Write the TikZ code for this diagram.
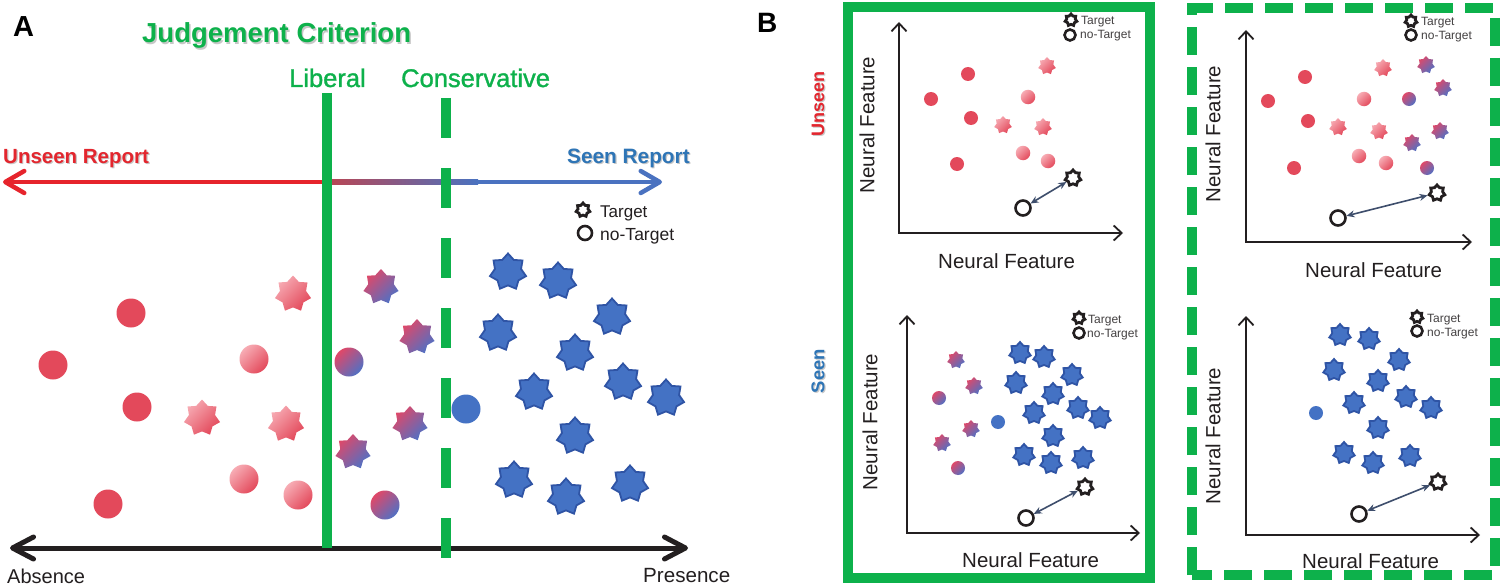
\documentclass[tikz,border=0pt]{standalone}
\usepackage{fontspec}
\setmainfont{Liberation Sans}
\newfontfamily\medfont{Liberation Sans}[FakeBold=1.3]
\usetikzlibrary{shapes.geometric,arrows.meta}
\definecolor{grn}{RGB}{13,177,75}
\definecolor{dotred}{RGB}{227,73,91}
\definecolor{lightpk}{RGB}{247,172,180}
\definecolor{purtop}{RGB}{224,72,104}
\definecolor{purbot}{RGB}{80,112,196}
\definecolor{sblue}{RGB}{68,114,196}
\definecolor{sborder}{RGB}{47,84,165}
\definecolor{arrred}{RGB}{230,36,44}
\definecolor{arrmid}{RGB}{185,70,84}
\definecolor{arrblue}{RGB}{74,114,192}
\definecolor{txtred}{RGB}{227,38,46}
\definecolor{txtblue}{RGB}{46,117,182}
\definecolor{ink}{RGB}{35,31,32}
\definecolor{dblc}{RGB}{62,78,108}
\newcommand{\fsz}[1]{\fontsize{#1}{#1}\selectfont}
\tikzset{
  myblob/.style={circle,inner sep=0pt,minimum size=#1},
  myrc/.style={myblob=#1,fill=dotred},
  mylc/.style={myblob=#1,top color=lightpk,bottom color=dotred,shading angle=45},
  mypc/.style={myblob=#1,top color=purtop,bottom color=purbot,shading angle=45},
  mybc/.style={myblob=#1,fill=sblue},
  mystar/.style={star,star points=7,star point ratio=1.38,inner sep=0pt,minimum size=#1},
  myls/.style={mystar=#1,top color=lightpk,bottom color=dotred,shading angle=45},
  myps/.style={mystar=#1,top color=purtop,bottom color=purbot,shading angle=45},
  mybs/.style={mystar=#1,fill=sblue,draw=sborder,line width=1.8pt},
  myts/.style={mystar=#1,fill=white,draw=ink,line width=2.8pt},
  mync/.style={myblob=#1,fill=white,draw=ink,line width=2.6pt},
  mytxt/.style={anchor=base west,inner sep=0pt},
  myaxis/.style={ink,line width=1.8pt,arrows={Straight Barb[length=8pt,width=15pt]-Straight Barb[length=8pt,width=15pt]}},
  mydbl/.style={dblc,line width=1.6pt,arrows={Stealth[length=8pt,width=7pt]-Stealth[length=8pt,width=7pt]}},
  myshadow/.style={text=black,opacity=0.22},
}
\begin{document}
\begin{tikzpicture}[x=1pt,y=-1pt]
\useasboundingbox (0,0) rectangle (1500,586);
\fill[white] (0,0) rectangle (1500,586);

% ---------------- Panel A ----------------
\node[mytxt] (labA) at (13,37) {\fsz{29}\bfseries A};
\node[mytxt,myshadow] (ttlsh) at (143.5,44.5) {\fsz{27.5}\bfseries Judgement Criterion};
\node[mytxt,text=grn] (ttl) at (142,43) {\fsz{27.5}\bfseries Judgement Criterion};
\node[mytxt,text=grn] (lib) at (289,87) {\fsz{25.5}\medfont Liberal};
\node[mytxt,text=grn] (cons) at (401,87) {\fsz{25.5}\medfont Conservative};
\node[mytxt,myshadow] (unrepsh) at (4.2,164.2) {\fsz{20.5}\bfseries Unseen Report};
\node[mytxt,text=txtred] (unrep) at (3,163) {\fsz{20.5}\bfseries Unseen Report};
\node[mytxt,myshadow] (serepsh) at (568.2,164.2) {\fsz{20.8}\bfseries Seen Report};
\node[mytxt,text=txtblue] (serep) at (567,163) {\fsz{20.8}\bfseries Seen Report};

% report arrow
\coordinate (rl) at (3,182);
\coordinate (rm) at (331,182);
\coordinate (bm) at (477,182);
\coordinate (br) at (662,182);
\draw[arrred,line width=4.5pt,arrows={Straight Barb[length=19pt,width=22pt,round]-}] (rl) -- (rm);
\draw[arrblue,line width=4.5pt,arrows={-Straight Barb[length=19pt,width=22pt,round]}] (bm) -- (br);
\shade[left color=arrmid,right color=arrblue] (329,179.75) rectangle (478,184.25);

% absence / presence axis
\coordinate (al) at (10,548);
\coordinate (ar) at (688,548);
\draw[ink,line width=5pt,arrows={Straight Barb[length=21pt,width=22pt,round]-Straight Barb[length=21pt,width=22pt,round]}] (al) -- (ar);
\node[mytxt,text=ink] (abs) at (7,583) {\fsz{20}Absence};
\node[mytxt,text=ink] (pres) at (643,582) {\fsz{20.6}Presence};

% criterion lines
\coordinate (libt) at (327,93);
\coordinate (libb) at (327,548);
\coordinate (cont) at (446,98);
\coordinate (conb) at (446,558);
\draw[grn,line width=10pt] (libt) -- (libb);
\draw[grn,line width=10pt,dash pattern=on 40pt off 30pt] (cont) -- (conb);

% legend A
\node[myts=14] (aleg1) at (583,210) {};
\node[mync=14] (aleg2) at (585,233) {};
\node[mytxt,text=ink] (alegt1) at (600,217) {\fsz{17}Target};
\node[mytxt,text=ink] (alegt2) at (600,240) {\fsz{17.5}no-Target};

% points A
\foreach \p [count=\i] in {(131,313),(53,365),(137,407),(108,504)} \node[myrc=29] (arc\i) at \p {};
\foreach \p [count=\i] in {(254,359),(244,479),(298,495)} \node[mylc=29] (alc\i) at \p {};
\foreach \p [count=\i] in {(293,294),(202,418),(286,424)} \node[myls=37] (als\i) at \p {};
\foreach \p [count=\i] in {(381,287),(417,337),(410,424),(353,452)} \node[myps=36] (aps\i) at \p {};
\foreach \p [count=\i] in {(349,362),(385,505)} \node[mypc=29] (apc\i) at \p {};
\node[mybc=29] (abc1) at (466,409) {};
\foreach \p [count=\i] in {(508,272),(558,281),(612,317),(498,333),(575,353),(534,392),(623,382),(666,398),(575,436),(514,480),(566,497),(630,484)} \node[mybs=37] (abs\i) at \p {};

% ---------------- Panel B ----------------
\node[mytxt] (labB) at (757,33) {\fsz{28}\bfseries B};
\node[rotate=90,myshadow] (unsh) at (819.2,105.2) {\fsz{18}\bfseries Unseen};
\node[rotate=90,text=txtred] (unl) at (818,104) {\fsz{18}\bfseries Unseen};
\node[rotate=90,myshadow] (sesh) at (819.2,372.2) {\fsz{18.5}\bfseries Seen};
\node[rotate=90,text=txtblue] (sel) at (818,371) {\fsz{18.5}\bfseries Seen};

\draw[grn,line width=10pt] (847.5,7) rectangle (1150,578);
\draw[grn,line width=10pt,dash pattern=on 28pt off 12pt] (1192,575) -- (1192,8) -- (1495,8) -- (1495,575) -- cycle;

% axes
\coordinate (o1) at (899,233); \coordinate (y1) at (899,22); \coordinate (x1) at (1123,233);
\coordinate (o2) at (1246,242); \coordinate (y2) at (1246,30); \coordinate (x2) at (1472,242);
\coordinate (o3) at (907,533); \coordinate (y3) at (907,315); \coordinate (x3) at (1140,533);
\coordinate (o4) at (1246,535); \coordinate (y4) at (1246,316); \coordinate (x4) at (1480,535);
\draw[myaxis] (y1) -- (o1) -- (x1);
\draw[myaxis] (y2) -- (o2) -- (x2);
\draw[myaxis] (y3) -- (o3) -- (x3);
\draw[myaxis] (y4) -- (o4) -- (x4);

\node[rotate=90,text=ink] (yl1) at (867,125) {\fsz{20.5}Neural Feature};
\node[rotate=90,text=ink] (yl2) at (1213,134) {\fsz{20.5}Neural Feature};
\node[rotate=90,text=ink] (yl3) at (870,422) {\fsz{20.5}Neural Feature};
\node[rotate=90,text=ink] (yl4) at (1213,436) {\fsz{20.5}Neural Feature};
\node[mytxt,text=ink] (xl1) at (938,268) {\fsz{20.5}Neural Feature};
\node[mytxt,text=ink] (xl2) at (1305,277) {\fsz{20.5}Neural Feature};
\node[mytxt,text=ink] (xl3) at (962,567) {\fsz{20.5}Neural Feature};
\node[mytxt,text=ink] (xl4) at (1302,568) {\fsz{20.5}Neural Feature};

% legends B
\node[myts=12] (l1s) at (1071,20) {};
\node[mync=11] (l1c) at (1070,35) {};
\node[mytxt,text=ink!85] (l1t) at (1081,25) {\fsz{12}Target};
\node[mytxt,text=ink!85] (l1n) at (1080,39) {\fsz{12}no-Target};
\node[myts=12] (l2s) at (1411,21) {};
\node[mync=11] (l2c) at (1411,35) {};
\node[mytxt,text=ink!85] (l2t) at (1421,26) {\fsz{12}Target};
\node[mytxt,text=ink!85] (l2n) at (1421,40) {\fsz{12}no-Target};
\node[myts=12] (l3s) at (1079,318) {};
\node[mync=11] (l3c) at (1079,333) {};
\node[mytxt,text=ink!85] (l3t) at (1088,323) {\fsz{12}Target};
\node[mytxt,text=ink!85] (l3n) at (1087,337) {\fsz{12}no-Target};
\node[myts=12] (l4s) at (1417,317) {};
\node[mync=11] (l4c) at (1417,331) {};
\node[mytxt,text=ink!85] (l4t) at (1427,322) {\fsz{12}Target};
\node[mytxt,text=ink!85] (l4n) at (1427,336) {\fsz{12}no-Target};

% TL points
\foreach \p [count=\i] in {(968,74),(931,99),(971,118),(957,164)} \node[myrc=14] (tlrc\i) at \p {};
\foreach \p [count=\i] in {(1028,97),(1023,153),(1048,161)} \node[mylc=14.5] (tllc\i) at \p {};
\foreach \p [count=\i] in {(1047,66),(1003,125),(1043,127)} \node[myls=18] (tlls\i) at \p {};
\node[myts=16] (tlT) at (1073,178) {};
\node[mync=15] (tlN) at (1023,208) {};
\draw[mydbl] (tlN) -- (tlT);

% TR points
\foreach \p [count=\i] in {(1305,77),(1268,101),(1308,121),(1294,168)} \node[myrc=14] (trrc\i) at \p {};
\foreach \p [count=\i] in {(1364,99),(1359,156),(1386,163)} \node[mylc=14.5] (trlc\i) at \p {};
\foreach \p [count=\i] in {(1383,68),(1338,127),(1379,131)} \node[myls=18] (trls\i) at \p {};
\foreach \p [count=\i] in {(1426,65),(1443,88),(1440,131),(1412,143)} \node[myps=18] (trps\i) at \p {};
\foreach \p [count=\i] in {(1409,99),(1427,168)} \node[mypc=14] (trpc\i) at \p {};
\node[myts=16] (trT) at (1437,193) {};
\node[mync=15] (trN) at (1338,218) {};
\draw[mydbl] (trN) -- (trT);

% BL points
\foreach \p [count=\i] in {(956,360),(974,386),(971,429),(942,443)} \node[myps=18] (blps\i) at \p {};
\foreach \p [count=\i] in {(939,398),(958,468)} \node[mypc=14] (blpc\i) at \p {};
\node[mybc=14] (blbc1) at (998,422) {};
\foreach \p [count=\i] in {(1020,353),(1044,357),(1072,375),(1016,383),(1053,394),(1034,413),(1078,408),(1100,418),(1053,436),(1024,455),(1051,463),(1083,458)} \node[mybs=22] (blbs\i) at \p {};
\node[myts=16] (blT) at (1085,487) {};
\node[mync=15] (blN) at (1026,518) {};
\draw[mydbl] (blN) -- (blT);

% BR points
\node[mybc=14] (brbc1) at (1316,413) {};
\foreach \p [count=\i] in {(1340,335),(1369,339),(1399,360),(1334,370),(1378,381),(1354,403),(1406,397),(1431,408),(1378,428),(1344,453),(1373,463),(1410,456)} \node[mybs=22] (brbs\i) at \p {};
\node[myts=16] (brT) at (1438,482) {};
\node[mync=15] (brN) at (1359,514) {};
\draw[mydbl] (brN) -- (brT);
\end{tikzpicture}
\end{document}
